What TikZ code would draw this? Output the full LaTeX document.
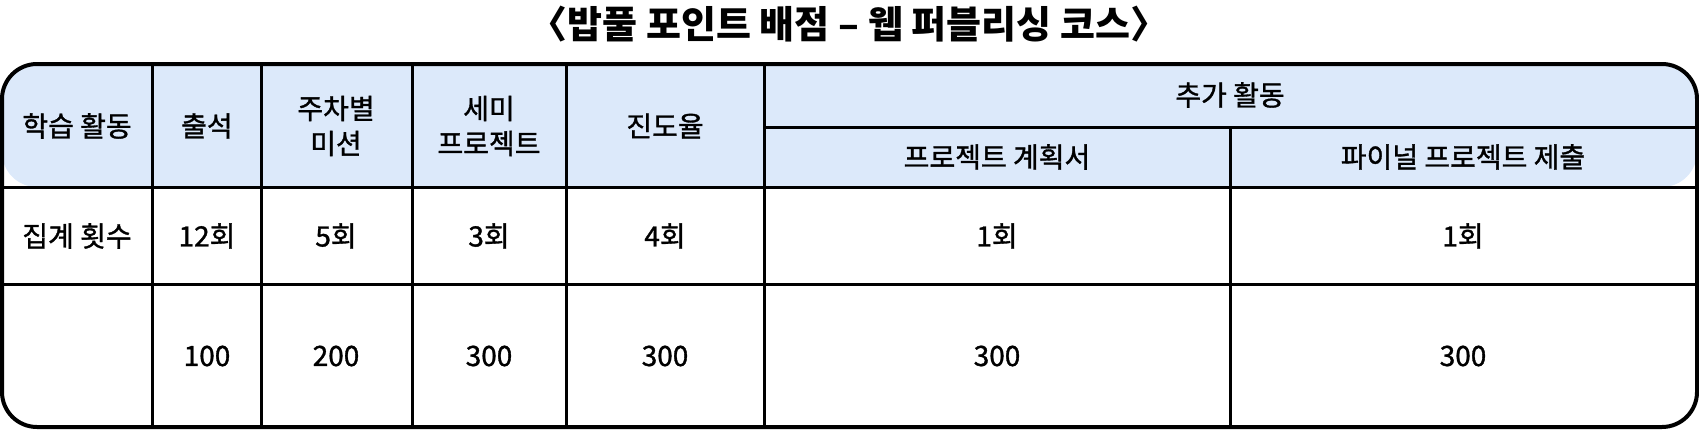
\documentclass[tikz,border=0pt]{standalone}
\usepackage{fontspec}
\setmainfont{Noto Sans CJK KR}
\newfontfamily\cellfont{Noto Sans CJK KR}[FakeBold=1.2]
\usetikzlibrary{positioning}
\usetikzlibrary{calc}

\definecolor{headblue}{HTML}{DCE9FA}

\tikzset{
  cell/.style={font=\cellfont\fontsize{28}{35}\selectfont, align=center, inner sep=0pt},
  gridline/.style={line width=3pt},
  frame/.style={line width=4pt, rounded corners=35pt},
}

\begin{document}
\begin{tikzpicture}[x=1pt, y=-1pt]

    \useasboundingbox (0, 0) rectangle (1699, 431);

    % Title
    \node[font=\fontsize{38}{44}\selectfont\bfseries, inner sep=0pt] (title) at (849, 24) {〈밥풀 포인트 배점 – 웹 퍼블리싱 코스〉};

    % Header background
    \fill[headblue, rounded corners=35pt] (2, 64) rectangle (1697, 187);

    % Grid corners
    \coordinate (tl) at (2, 64);
    \coordinate (br) at (1697, 427);
    \coordinate (h1) at (2, 187);
    \coordinate (h2) at (2, 284);
    \coordinate (s) at (764, 127);
    \coordinate (f) at (1230, 127);

    % Row lines
    \draw[gridline] (h1) -- (h1 -| br);
    \draw[gridline] (h2) -- (h2 -| br);
    \draw[gridline] (s) -- (s -| br);

    % Column lines
    \foreach \x in {152, 261, 412, 566, 764} {
      \draw[gridline] (\x, 64) -- (\x, 427);
    }
    \draw[gridline] (f) -- (f |- br);

    % Frame
    \draw[frame] (tl) rectangle (br);

    % Header
    \node[cell] (hAct) at (77, 126) {학습 활동};
    \node[cell] (hAtt) at (207, 126) {출석};
    \node[cell] (hMis) at (336, 126) {주차별\\미션};
    \node[cell] (hSemi) at (489, 126) {세미\\프로젝트};
    \node[cell] (hProg) at (665, 126) {진도율};
    \node[cell] (hExtra) at (1230, 95) {추가 활동};
    \node[cell] (hPlan) at (997, 157) {프로젝트 계획서};
    \node[cell] (hFinal) at (1463, 157) {파이널 프로젝트 제출};

    % Counts
    \node[cell] (cLabel) at (77, 236) {집계 횟수};
    \node[cell] (cAtt) at (207, 236) {12회};
    \node[cell] (cMis) at (336, 236) {5회};
    \node[cell] (cSemi) at (489, 236) {3회};
    \node[cell] (cProg) at (665, 236) {4회};
    \node[cell] (cPlan) at (997, 236) {1회};
    \node[cell] (cFinal) at (1463, 236) {1회};

    % Points
    \node[cell] (pAtt) at (207, 356) {100};
    \node[cell] (pMis) at (336, 356) {200};
    \node[cell] (pSemi) at (489, 356) {300};
    \node[cell] (pProg) at (665, 356) {300};
    \node[cell] (pPlan) at (997, 356) {300};
    \node[cell] (pFinal) at (1463, 356) {300};

\end{tikzpicture}
\end{document}
